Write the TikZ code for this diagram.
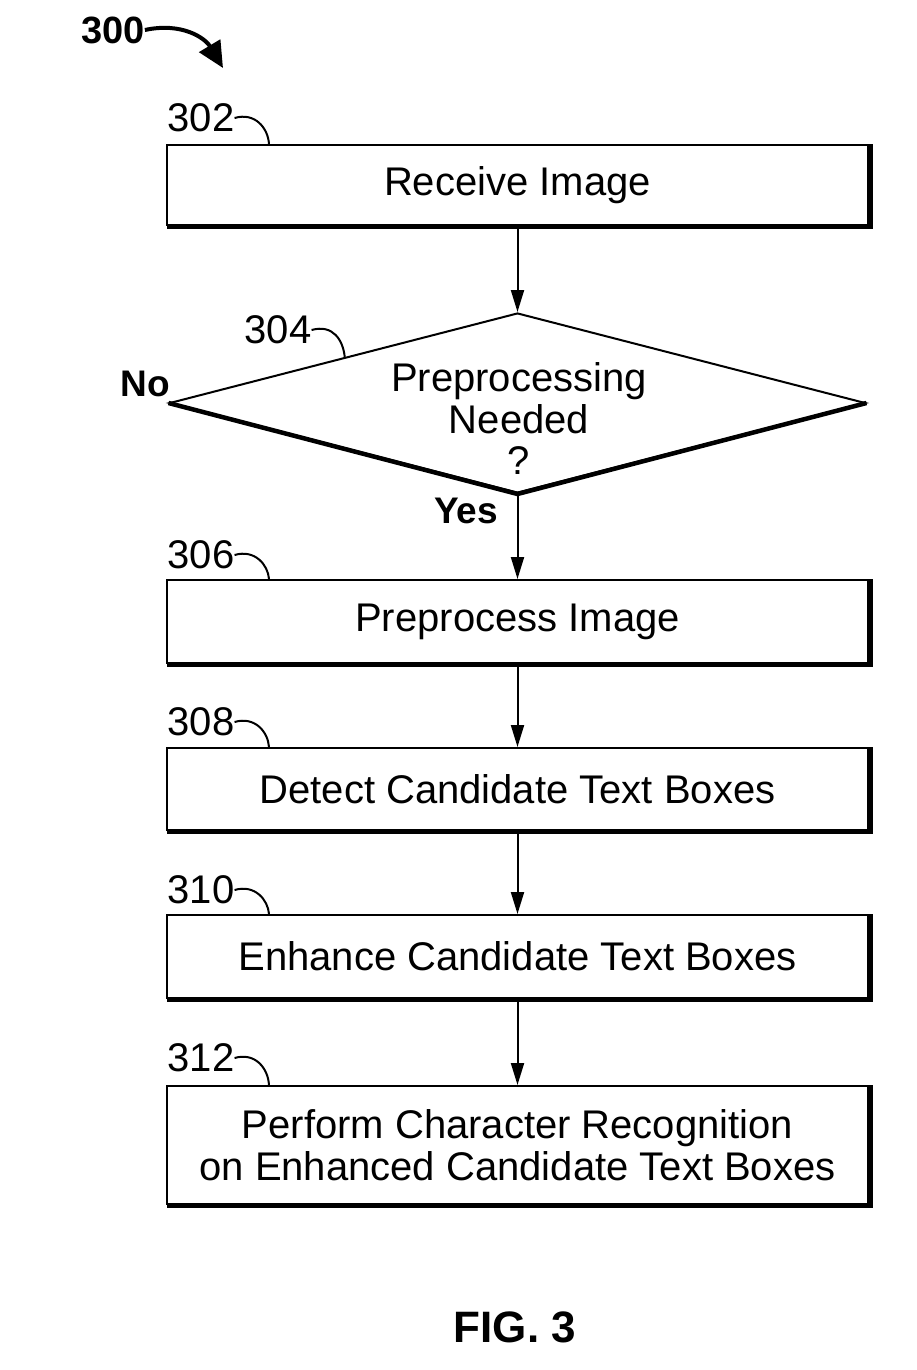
\documentclass[tikz,border=0pt]{standalone}
\usepackage{fontspec}
\setmainfont{Liberation Sans}
\usetikzlibrary{shapes.geometric,arrows.meta,calc}
\begin{document}
\begin{tikzpicture}[x=1pt,y=-1pt,
  stepbox/.style={draw,line width=2pt,minimum width=701pt,inner sep=0pt,align=center,font=\fontsize{40}{42}\selectfont},
  shadowline/.style={line width=5pt,line cap=butt},
  conn/.style={line width=2pt,-{Triangle[length=22pt,width=13pt]}},
  refnum/.style={inner sep=0pt,font=\fontsize{40}{42}\selectfont},
  leader/.style={line width=2pt},
  boldlbl/.style={inner sep=0pt,font=\bfseries\fontsize{37}{40}\selectfont}]
\useasboundingbox (0,0) rectangle (916,1370);

% figure label
\node[inner sep=0pt,font=\bfseries\fontsize{38}{40}\selectfont] (n300) at (113,30) {300};
\coordinate (a300) at (223,68);
\draw[line width=4pt,-{Triangle[length=26pt,width=24pt]}] (n300.east) .. controls (182,22) and (205,38) .. (a300);

% boxes
\node[stepbox,minimum height=80pt] (b302) at (517.5,185) {Receive Image};
\node[diamond,draw,line width=2pt,minimum width=696pt,minimum height=180pt,inner sep=0pt] (d304) at (517.5,403) {};
\node[inner sep=0pt,align=center,font=\fontsize{40}{41.5}\selectfont] (d304t) at (519,419) {Preprocessing\\Needed\\?};
\node[stepbox,minimum height=83pt] (b306) at (517.5,621.5) {Preprocess Image};
\node[stepbox,minimum height=82pt] (b308) at (517.5,789) {Detect Candidate Text Boxes};
\node[stepbox,minimum height=83pt] (b310) at (517.5,956.5) {Enhance Candidate Text Boxes};
\node[stepbox,minimum height=118pt] (b312) at (517.5,1145) {Perform Character Recognition\\on Enhanced Candidate Text Boxes};

% shadows (thick lower and right edges)
\foreach \b in {b302,b306,b308,b310,b312}{
  \draw[shadowline] ($(\b.south west)+(1,0)$) -- ($(\b.south east)+(1.5,0)$) -- ($(\b.north east)+(1.5,0)$);
}
\draw[line width=4.5pt,line join=miter] (d304.west) -- (d304.south) -- (d304.east);

% connectors
\draw[conn] (b302.south) -- (d304.north);
\draw[conn] (d304.south) -- (b306.north);
\draw[conn] (b306.south) -- (b308.north);
\draw[conn] (b308.south) -- (b310.north);
\draw[conn] (b310.south) -- (b312.north);

% decision labels
\node[boldlbl] (no) at (145,384) {No};
\node[boldlbl] (yes) at (466,511) {Yes};

% reference numerals with leaders
\node[refnum] (r302) at (201,118) {302};
\draw[leader] (r302.east) .. controls (255,112) and (268,128) .. ($(b302.north west)+(103,0)$);
\node[refnum] (r304) at (278,330) {304};
\draw[leader] (r304.east) .. controls (333,324) and (343,340) .. ($(d304.west)!0.505!(d304.north)$);
\node[refnum] (r306) at (201,555) {306};
\draw[leader] (r306.east) .. controls (255,549) and (268,565) .. ($(b306.north west)+(103,0)$);
\node[refnum] (r308) at (201,722) {308};
\draw[leader] (r308.east) .. controls (255,716) and (268,732) .. ($(b308.north west)+(103,0)$);
\node[refnum] (r310) at (201,890) {310};
\draw[leader] (r310.east) .. controls (255,884) and (268,900) .. ($(b310.north west)+(103,0)$);
\node[refnum] (r312) at (201,1058) {312};
\draw[leader] (r312.east) .. controls (255,1052) and (268,1068) .. ($(b312.north west)+(103,0)$);

% caption
\node[inner sep=0pt,font=\bfseries\fontsize{44}{46}\selectfont] (fig) at (515,1327) {FIG. 3};
\end{tikzpicture}
\end{document}
